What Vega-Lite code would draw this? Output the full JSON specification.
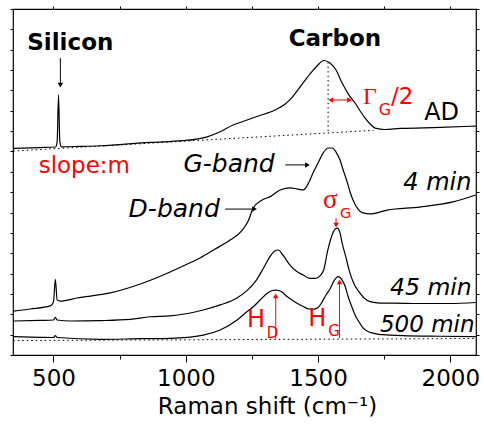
{
  "$schema": "https://vega.github.io/schema/vega-lite/v6.json",
  "width": 463,
  "height": 346,
  "autosize": {"type": "none"},
  "padding": {"left": 13, "top": 9, "right": 8, "bottom": 75},
  "background": "white",
  "config": {"font": "DejaVu Sans", "view": {"stroke": "black", "strokeWidth": 1.2}},
  "datasets": {
    "curves": [
      {"s":"AD","x":348,"y":10.15},{"s":"AD","x":450,"y":10.19},{"s":"AD","x":508,"y":10.22},{"s":"AD","x":514,"y":10.5},{"s":"AD","x":519,"y":12.77},{"s":"AD","x":524,"y":10.5},{"s":"AD","x":530,"y":10.23},{"s":"AD","x":601,"y":10.25},{"s":"AD","x":677,"y":10.28},{"s":"AD","x":865,"y":10.45},{"s":"AD","x":990,"y":10.53},{"s":"AD","x":1081,"y":10.72},{"s":"AD","x":1130,"y":10.97},{"s":"AD","x":1179,"y":11.3},{"s":"AD","x":1213,"y":11.46},{"s":"AD","x":1274,"y":11.74},{"s":"AD","x":1338,"y":12.04},{"s":"AD","x":1376,"y":12.33},{"s":"AD","x":1402,"y":12.66},{"s":"AD","x":1432,"y":13.17},{"s":"AD","x":1470,"y":13.81},{"s":"AD","x":1496,"y":14.2},{"s":"AD","x":1522,"y":14.47},{"s":"AD","x":1545,"y":14.35},{"s":"AD","x":1568,"y":14.0},{"s":"AD","x":1591,"y":13.36},{"s":"AD","x":1617,"y":12.77},{"s":"AD","x":1640,"y":12.38},{"s":"AD","x":1659,"y":11.99},{"s":"AD","x":1678,"y":11.64},{"s":"AD","x":1697,"y":11.35},{"s":"AD","x":1716,"y":11.15},{"s":"AD","x":1753,"y":11.08},{"s":"AD","x":1810,"y":11.13},{"s":"AD","x":1961,"y":11.18},{"s":"AD","x":2096,"y":11.25},
      {"s":"4","x":348,"y":2.16},{"s":"4","x":412,"y":2.26},{"s":"4","x":488,"y":2.41},{"s":"4","x":500,"y":2.6},{"s":"4","x":507,"y":3.72},{"s":"4","x":514,"y":2.7},{"s":"4","x":526,"y":2.65},{"s":"4","x":589,"y":2.8},{"s":"4","x":714,"y":3.05},{"s":"4","x":839,"y":3.54},{"s":"4","x":941,"y":4.08},{"s":"4","x":998,"y":4.42},{"s":"4","x":1054,"y":4.77},{"s":"4","x":1111,"y":5.21},{"s":"4","x":1168,"y":5.65},{"s":"4","x":1213,"y":6.12},{"s":"4","x":1236,"y":6.58},{"s":"4","x":1255,"y":7.22},{"s":"4","x":1289,"y":7.62},{"s":"4","x":1319,"y":7.78},{"s":"4","x":1357,"y":8.11},{"s":"4","x":1395,"y":8.21},{"s":"4","x":1420,"y":8.16},{"s":"4","x":1444,"y":8.11},{"s":"4","x":1466,"y":8.5},{"s":"4","x":1481,"y":8.94},{"s":"4","x":1500,"y":9.43},{"s":"4","x":1519,"y":9.92},{"s":"4","x":1538,"y":10.17},{"s":"4","x":1553,"y":10.17},{"s":"4","x":1568,"y":9.97},{"s":"4","x":1583,"y":9.58},{"s":"4","x":1595,"y":9.09},{"s":"4","x":1610,"y":8.5},{"s":"4","x":1621,"y":8.01},{"s":"4","x":1632,"y":7.62},{"s":"4","x":1651,"y":7.17},{"s":"4","x":1670,"y":6.98},{"s":"4","x":1697,"y":6.93},{"s":"4","x":1761,"y":7.12},{"s":"4","x":1885,"y":7.27},{"s":"4","x":2010,"y":7.52},{"s":"4","x":2096,"y":7.86},
      {"s":"45","x":348,"y":1.67},{"s":"45","x":450,"y":1.7},{"s":"45","x":500,"y":1.72},{"s":"45","x":507,"y":1.85},{"s":"45","x":514,"y":1.72},{"s":"45","x":563,"y":1.67},{"s":"45","x":677,"y":1.69},{"s":"45","x":790,"y":1.75},{"s":"45","x":865,"y":1.88},{"s":"45","x":941,"y":1.92},{"s":"45","x":1066,"y":2.21},{"s":"45","x":1130,"y":2.46},{"s":"45","x":1192,"y":2.79},{"s":"45","x":1230,"y":3.15},{"s":"45","x":1267,"y":3.68},{"s":"45","x":1295,"y":4.3},{"s":"45","x":1318,"y":4.83},{"s":"45","x":1335,"y":5.1},{"s":"45","x":1350,"y":5.16},{"s":"45","x":1365,"y":4.95},{"s":"45","x":1394,"y":4.42},{"s":"45","x":1420,"y":4.1},{"s":"45","x":1444,"y":3.93},{"s":"45","x":1470,"y":3.76},{"s":"45","x":1490,"y":3.76},{"s":"45","x":1508,"y":3.9},{"s":"45","x":1522,"y":4.2},{"s":"45","x":1536,"y":5.1},{"s":"45","x":1548,"y":5.7},{"s":"45","x":1560,"y":6.1},{"s":"45","x":1572,"y":6.23},{"s":"45","x":1583,"y":6.0},{"s":"45","x":1591,"y":5.5},{"s":"45","x":1606,"y":4.77},{"s":"45","x":1617,"y":4.18},{"s":"45","x":1636,"y":3.49},{"s":"45","x":1655,"y":3.1},{"s":"45","x":1674,"y":2.8},{"s":"45","x":1697,"y":2.62},{"s":"45","x":1734,"y":2.55},{"s":"45","x":1780,"y":2.55},{"s":"45","x":1885,"y":2.53},{"s":"45","x":1998,"y":2.53},{"s":"45","x":2096,"y":2.58},
      {"s":"500","x":348,"y":0.9},{"s":"500","x":450,"y":0.87},{"s":"500","x":500,"y":0.86},{"s":"500","x":507,"y":0.95},{"s":"500","x":514,"y":0.86},{"s":"500","x":677,"y":0.77},{"s":"500","x":828,"y":0.8},{"s":"500","x":941,"y":0.82},{"s":"500","x":1066,"y":0.98},{"s":"500","x":1130,"y":1.23},{"s":"500","x":1194,"y":1.72},{"s":"500","x":1225,"y":2.06},{"s":"500","x":1255,"y":2.37},{"s":"500","x":1281,"y":2.7},{"s":"500","x":1308,"y":3.03},{"s":"500","x":1327,"y":3.17},{"s":"500","x":1342,"y":3.19},{"s":"500","x":1361,"y":3.12},{"s":"500","x":1384,"y":2.86},{"s":"500","x":1402,"y":2.7},{"s":"500","x":1421,"y":2.54},{"s":"500","x":1444,"y":2.38},{"s":"500","x":1466,"y":2.26},{"s":"500","x":1485,"y":2.25},{"s":"500","x":1500,"y":2.33},{"s":"500","x":1515,"y":2.6},{"s":"500","x":1530,"y":2.95},{"s":"500","x":1545,"y":3.24},{"s":"500","x":1560,"y":3.64},{"s":"500","x":1576,"y":3.85},{"s":"500","x":1591,"y":3.68},{"s":"500","x":1602,"y":3.39},{"s":"500","x":1613,"y":2.9},{"s":"500","x":1625,"y":2.46},{"s":"500","x":1640,"y":1.97},{"s":"500","x":1655,"y":1.62},{"s":"500","x":1670,"y":1.33},{"s":"500","x":1697,"y":1.11},{"s":"500","x":1723,"y":1.03},{"s":"500","x":1772,"y":0.98},{"s":"500","x":1821,"y":0.95},{"s":"500","x":1961,"y":0.92},{"s":"500","x":2096,"y":0.9}
    ],
    "dotted": [
      {"s":"baseAD","o":1,"x":348,"y":10.02},{"s":"baseAD","o":2,"x":1710,"y":11.04},
      {"s":"base0","o":1,"x":348,"y":0.71},{"s":"base0","o":2,"x":2096,"y":0.81},
      {"s":"vert","o":1,"x":1538,"y":14.39},{"s":"vert","o":2,"x":1538,"y":10.96}
    ],
    "arrows": [
      {"x":526,"x2":526,"y":14.59,"y2":13.2,"c":"black"},
      {"x":1376,"x2":1462,"y":9.34,"y2":9.34,"c":"black"},
      {"x":1149,"x2":1262,"y":7.17,"y2":7.17,"c":"black"},
      {"x":1546,"x2":1621,"y":12.53,"y2":12.53,"c":"red"},
      {"x":1568,"x2":1568,"y":6.73,"y2":6.35,"c":"red"},
      {"x":1340,"x2":1340,"y":0.81,"y2":2.95,"c":"red"},
      {"x":1581,"x2":1581,"y":0.83,"y2":3.63,"c":"red"}
    ],
    "heads": [
      {"x":526,"y":13.26,"sh":"triangle-down","c":"black"},
      {"x":1460,"y":9.34,"sh":"triangle-right","c":"black"},
      {"x":1260,"y":7.17,"sh":"triangle-right","c":"black"},
      {"x":1548,"y":12.53,"sh":"triangle-left","c":"red"},
      {"x":1619,"y":12.53,"sh":"triangle-right","c":"red"},
      {"x":1568,"y":6.38,"sh":"triangle-down","c":"red"},
      {"x":1340,"y":2.91,"sh":"triangle-up","c":"red"},
      {"x":1581,"y":3.59,"sh":"triangle-up","c":"red"}
    ],
    "treg": [
      {"t":"slope:m","x":444,"y":8.96,"c":"red","fs":23},
      {"t":"AD","x":1901,"y":11.55,"c":"black","fs":24},
      {"t":"/2","x":1776,"y":12.33,"c":"red","fs":23},
      {"t":"G","x":1729,"y":11.79,"c":"red","fs":16},
      {"t":"G","x":1583,"y":6.72,"c":"red","fs":14.5},
      {"t":"H","x":1231,"y":1.39,"c":"red","fs":24},
      {"t":"D","x":1306,"y":0.82,"c":"red","fs":15},
      {"t":"H","x":1463,"y":1.42,"c":"red","fs":24},
      {"t":"G","x":1539,"y":0.93,"c":"red","fs":15}
    ],
    "tbold": [
      {"t":"Silicon","x":401,"y":15.01,"fs":23},
      {"t":"Carbon","x":1389,"y":15.16,"fs":23}
    ],
    "tit": [
      {"t":"G-band","x":991,"y":9.01,"fs":25},
      {"t":"D-band","x":784,"y":6.77,"fs":25},
      {"t":"4 min","x":1822,"y":8.11,"fs":24},
      {"t":"45 min","x":1772,"y":2.95,"fs":23.5},
      {"t":"500 min","x":1734,"y":1.15,"fs":23}
    ],
    "tserif": [
      {"t":"Γ","x":1670,"y":12.33,"fs":24},
      {"t":"σ","x":1519,"y":7.22,"fs":27}
    ]
  },
  "resolve": {"axis": {"x": "independent", "y": "independent"}},
  "layer": [
    {
      "data": {"name": "curves"},
      "mark": {"type": "line", "color": "black", "strokeWidth": 1.2, "interpolate": "monotone"},
      "encoding": {
        "x": {"field": "x", "type": "quantitative",
          "scale": {"domain": [347, 2097], "nice": false, "zero": false},
          "axis": {"orient": "bottom", "values": [500,750,1000,1250,1500,1750,2000], "grid": false, "domain": false,
            "tickColor": "black", "tickWidth": 1,
            "tickSize": {"condition": {"test": "datum.value % 500 === 0", "value": 7}, "value": 4},
            "labelExpr": "datum.value % 500 === 0 ? datum.label : ''", "format": "d",
            "labelFont": "DejaVu Sans", "labelFontSize": 23, "labelColor": "black", "labelPadding": 5,
            "labelFlush": false, "labelOverlap": false,
            "title": "Raman shift (cm⁻¹)", "titleFont": "DejaVu Sans", "titleFontSize": 23, "titleFontWeight": "normal",
            "titleColor": "black", "titleX": 254, "titleY": 58, "titleBaseline": "alphabetic"}},
        "y": {"field": "y", "type": "quantitative",
          "scale": {"domain": [0, 17], "nice": false, "zero": false},
          "axis": {"orient": "left", "values": [0,1,2,3,4,5,6,7,8,9,10,11,12,13,14,15,16,17], "labels": false, "grid": false,
            "domain": false, "tickSize": 3, "tickColor": "black", "title": null}},
        "detail": {"field": "s"}
      }
    },
    {
      "data": {"name": "dotted"},
      "mark": {"type": "line", "color": "black", "strokeWidth": 1, "strokeDash": [1.5, 3]},
      "encoding": {
        "x": {"field": "x", "type": "quantitative",
          "axis": {"orient": "top", "values": [500,750,1000,1250,1500,1750,2000], "grid": false, "domain": false,
            "labels": false, "tickSize": 3, "tickColor": "black", "title": null}},
        "y": {"field": "y", "type": "quantitative",
          "axis": {"orient": "right", "values": [0,1,2,3,4,5,6,7,8,9,10,11,12,13,14,15,16,17], "labels": false, "grid": false,
            "domain": false, "tickSize": 3, "tickColor": "black", "title": null}},
        "detail": {"field": "s"},
        "order": {"field": "o"}
      }
    },
    {
      "data": {"name": "arrows"},
      "mark": {"type": "rule", "strokeWidth": 1},
      "encoding": {
        "x": {"field": "x", "type": "quantitative", "axis": null},
        "x2": {"field": "x2"},
        "y": {"field": "y", "type": "quantitative", "axis": null},
        "y2": {"field": "y2"},
        "color": {"field": "c", "type": "nominal", "scale": null}
      }
    },
    {
      "data": {"name": "heads"},
      "mark": {"type": "point", "filled": true, "size": 30, "opacity": 1},
      "encoding": {
        "x": {"field": "x", "type": "quantitative", "axis": null},
        "y": {"field": "y", "type": "quantitative", "axis": null},
        "shape": {"field": "sh", "type": "nominal", "scale": null},
        "color": {"field": "c", "type": "nominal", "scale": null}
      }
    },
    {
      "data": {"name": "treg"},
      "mark": {"type": "text", "font": "DejaVu Sans", "align": "left", "baseline": "alphabetic"},
      "encoding": {
        "x": {"field": "x", "type": "quantitative", "axis": null},
        "y": {"field": "y", "type": "quantitative", "axis": null},
        "text": {"field": "t"},
        "size": {"field": "fs", "type": "quantitative", "scale": null},
        "color": {"field": "c", "type": "nominal", "scale": null}
      }
    },
    {
      "data": {"name": "tbold"},
      "mark": {"type": "text", "font": "DejaVu Sans", "fontWeight": "bold", "align": "left", "baseline": "alphabetic", "color": "black"},
      "encoding": {
        "x": {"field": "x", "type": "quantitative", "axis": null},
        "y": {"field": "y", "type": "quantitative", "axis": null},
        "text": {"field": "t"},
        "size": {"field": "fs", "type": "quantitative", "scale": null}
      }
    },
    {
      "data": {"name": "tit"},
      "mark": {"type": "text", "font": "DejaVu Sans", "fontStyle": "italic", "align": "left", "baseline": "alphabetic", "color": "black"},
      "encoding": {
        "x": {"field": "x", "type": "quantitative", "axis": null},
        "y": {"field": "y", "type": "quantitative", "axis": null},
        "text": {"field": "t"},
        "size": {"field": "fs", "type": "quantitative", "scale": null}
      }
    },
    {
      "data": {"name": "tserif"},
      "mark": {"type": "text", "font": "Liberation Serif", "align": "left", "baseline": "alphabetic", "color": "red"},
      "encoding": {
        "x": {"field": "x", "type": "quantitative", "axis": null},
        "y": {"field": "y", "type": "quantitative", "axis": null},
        "text": {"field": "t"},
        "size": {"field": "fs", "type": "quantitative", "scale": null}
      }
    }
  ]
}
